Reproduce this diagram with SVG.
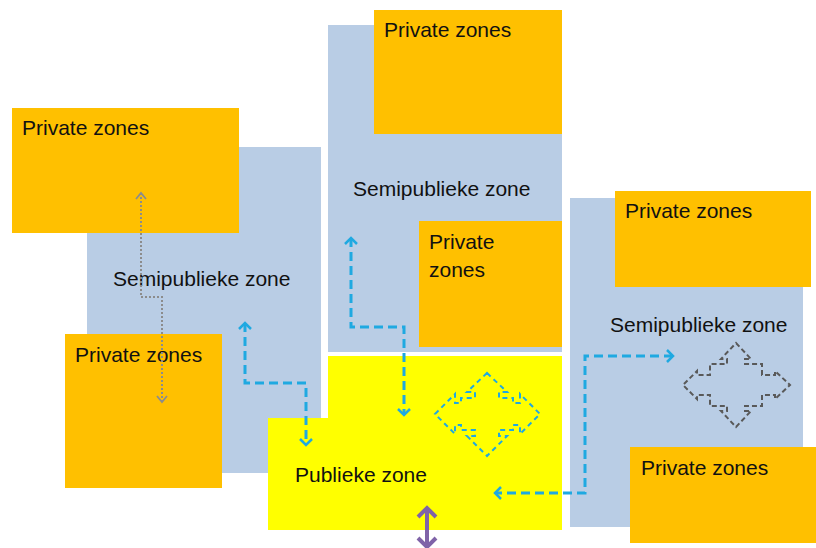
<svg xmlns="http://www.w3.org/2000/svg" width="816" height="548" viewBox="0 0 816 548">
<style>
.semi{fill:#B9CDE5}
.priv{fill:#FFC000}
.pub{fill:#FFFF00}
.lbl{font-family:"Liberation Sans",Arial,sans-serif;font-size:21px;fill:#111}
.flow{fill:none;stroke:#1FA9E1;stroke-width:3;stroke-dasharray:9 5}
.dot{fill:none;stroke:#8C8C8C;stroke-width:2;stroke-dasharray:2 2}
.purp{fill:none;stroke:#7F63A8;stroke-width:4}
.quadb{fill:none;stroke:#1FA9E1;stroke-width:2;stroke-dasharray:5 4}
.quadg{fill:none;stroke:#595959;stroke-width:2;stroke-dasharray:5 3}
</style>
<defs>
<marker id="mb" markerUnits="userSpaceOnUse" markerWidth="16" markerHeight="16" viewBox="0 0 16 16" refX="12" refY="8" orient="auto-start-reverse">
<path d="M6,2 L12,8 L6,14" fill="none" stroke="#1FA9E1" stroke-width="2.5"/>
</marker>
<marker id="mg" markerUnits="userSpaceOnUse" markerWidth="14" markerHeight="14" viewBox="0 0 14 14" refX="11" refY="7" orient="auto-start-reverse">
<path d="M5,2 L11,7 L5,12" fill="none" stroke="#8C8C8C" stroke-width="1.8"/>
</marker>
<marker id="mp" markerUnits="userSpaceOnUse" markerWidth="24" markerHeight="24" viewBox="0 0 24 24" refX="19" refY="12" orient="auto-start-reverse">
<path d="M10,3 L19,12 L10,21" fill="none" stroke="#7F63A8" stroke-width="4"/>
</marker>
</defs>

<g id="semi-left">
<rect class="semi" x="87" y="147" width="234" height="326"/>
<text class="lbl" x="113" y="286">Semipublieke zone</text>
</g>
<g id="private-left-top">
<rect class="priv" x="12" y="108" width="227" height="125"/>
<text class="lbl" x="22" y="135">Private zones</text>
</g>
<g id="private-left-bottom">
<rect class="priv" x="65" y="334" width="157" height="154"/>
<text class="lbl" x="75" y="362">Private zones</text>
</g>

<g id="semi-middle">
<rect class="semi" x="328" y="25" width="234" height="327"/>
<text class="lbl" x="353" y="196">Semipublieke zone</text>
</g>
<g id="private-middle-top">
<rect class="priv" x="374" y="10" width="188" height="124"/>
<text class="lbl" x="384" y="37">Private zones</text>
</g>
<g id="private-middle">
<rect class="priv" x="419" y="221" width="143" height="126"/>
<text class="lbl" x="429" y="249">Private</text>
<text class="lbl" x="429" y="277">zones</text>
</g>

<g id="public">
<polygon class="pub" points="328,356 562,356 562,530 268,530 268,418 328,418"/>
<text class="lbl" x="295" y="482">Publieke zone</text>
<path class="quadb" d="M487,373 L507,392 L499,392 L499,398 L513,398 L513,403 L520,403 L520,394 L540,414 L520,434 L520,425 L513,425 L513,430 L499,430 L499,436 L507,436 L487,456 L467,436 L475,436 L475,430 L461,430 L461,425 L455,425 L455,434 L435,414 L455,394 L455,403 L461,403 L461,398 L475,398 L475,392 L467,392 Z"/>
</g>

<g id="semi-right">
<rect class="semi" x="570" y="198" width="233" height="329"/>
<text class="lbl" x="610" y="332">Semipublieke zone</text>
<path class="quadg" d="M736,343 L751,359 L745,359 L745,364 L762,364 L762,375 L775,375 L775,371 L790,385 L775,399 L775,395 L762,395 L762,406 L745,406 L745,411 L751,411 L736,427 L721,411 L727,411 L727,406 L710,406 L710,395 L697,395 L697,399 L683,385 L697,371 L697,375 L710,375 L710,364 L727,364 L727,359 L721,359 Z"/>
</g>
<g id="private-right-top">
<rect class="priv" x="615" y="191" width="196" height="96"/>
<text class="lbl" x="625" y="218">Private zones</text>
</g>
<g id="private-right-bottom">
<rect class="priv" x="630" y="447" width="186" height="96"/>
<text class="lbl" x="641" y="475">Private zones</text>
</g>

<g id="connectors">
<path class="flow" d="M245,323 V383 H306 V445" marker-start="url(#mb)" marker-end="url(#mb)"/>
<path class="flow" d="M351,238 V327 H404 V415" marker-start="url(#mb)" marker-end="url(#mb)"/>
<path class="flow" d="M673,356 H585 V493 H495" marker-start="url(#mb)" marker-end="url(#mb)"/>
<path class="dot" d="M141,193 V297 H162 V402" marker-start="url(#mg)" marker-end="url(#mg)"/>
<path class="purp" d="M427,508 V547" marker-start="url(#mp)" marker-end="url(#mp)"/>
</g>
</svg>
